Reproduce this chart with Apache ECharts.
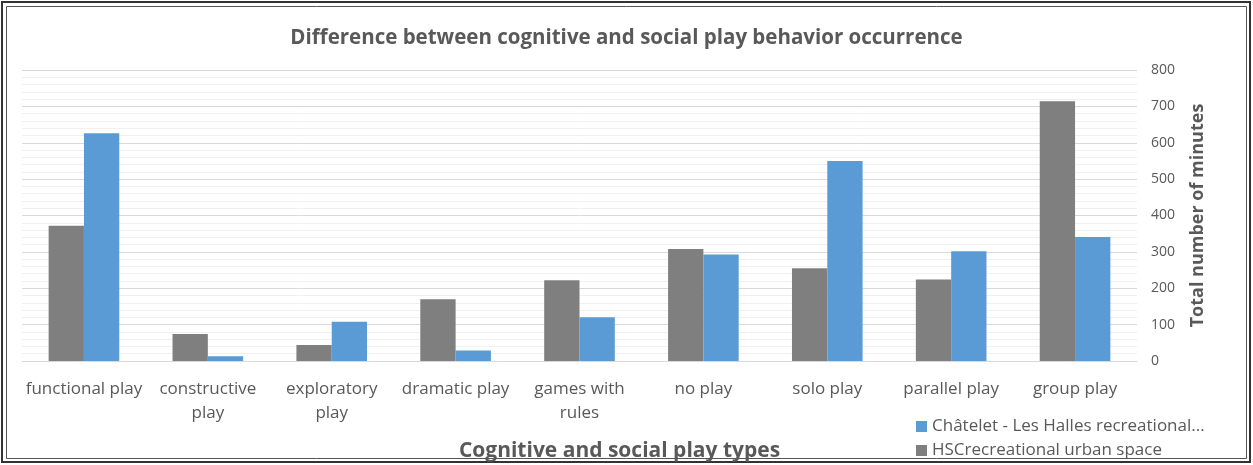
<!DOCTYPE html>
<html>
<head>
<meta charset="utf-8">
<script src="https://cdn.jsdelivr.net/npm/echarts@6/dist/echarts.min.js"></script>
<style>
  html, body { margin: 0; padding: 0; background: #fff; }
  #chart { width: 1253px; height: 465px; }
</style>
</head>
<body>
<div id="chart"></div>
<script>
const categories = ['functional play', 'constructive play', 'exploratory play', 'dramatic play',
  'games with rules', 'no play', 'solo play', 'parallel play', 'group play'];
const hscValues = [372, 74, 44, 170, 222, 308, 255, 224, 714];
const chateletValues = [626, 13, 108, 29, 120, 293, 550, 302, 341];
const seriesNames = ['HSCrecreational urban space', 'Châtelet - Les Halles recreational urban space'];

const textColor = '#595959';
const font = '"Open Sans", sans-serif';

const myChart = echarts.init(document.getElementById('chart'));

const option = {
  animation: false,
  textStyle: { fontFamily: font },
  title: {
    text: 'Difference between cognitive and social play behavior occurrence',
    left: 'center',
    top: 23,
    textStyle: { fontFamily: font, fontSize: 20.5, fontWeight: 'bold', color: textColor }
  },
  legend: {
    data: [seriesNames[1], seriesNames[0]],
    orient: 'vertical',
    left: 916,
    top: 415,
    height: 60,
    padding: 0,
    itemWidth: 11,
    itemHeight: 11,
    itemGap: 1,
    icon: 'rect',
    formatter: name => name.length > 34 ? name.slice(0, 34) + '...' : name,
    textStyle: { fontFamily: font, fontSize: 17, color: textColor, lineHeight: 23 }
  },
  grid: { left: 22, right: 116, top: 70, bottom: 104, outerBoundsMode: 'none' },
  xAxis: {
    type: 'category',
    data: categories,
    name: 'Cognitive and social play types',
    nameLocation: 'middle',
    nameGap: 80,
    nameTextStyle: { fontFamily: font, fontSize: 21, fontWeight: 'bold', color: textColor,
      padding: [0, 0, 0, 80] },
    axisLine: { lineStyle: { color: '#d9d9d9', width: 1 } },
    axisTick: { show: false },
    axisLabel: {
      fontFamily: font, fontSize: 17, color: textColor, margin: 16, lineHeight: 24,
      interval: 0,
      formatter: v => v.length > 15 ? v.replace(/ (\S+)$/, '\n$1') : v
    }
  },
  yAxis: {
    type: 'value',
    position: 'right',
    min: 0,
    max: 800,
    interval: 100,
    name: 'Total number of minutes',
    nameLocation: 'middle',
    nameGap: 52,
    nameRotate: 90,
    nameTextStyle: { fontFamily: font, fontSize: 18, fontWeight: 'bold', color: textColor },
    axisLine: { show: false },
    axisTick: { show: false },
    axisLabel: { fontFamily: font, fontSize: 14, color: textColor, margin: 14, align: 'left' },
    splitLine: { lineStyle: { color: '#d9d9d9', width: 1 } },
    minorTick: { show: false, splitNumber: 5 },
    minorSplitLine: { show: true, lineStyle: { color: '#f0f0f0', width: 1 } }
  },
  series: [
    {
      name: seriesNames[0],
      type: 'bar',
      data: hscValues,
      barGap: '0%',
      barCategoryGap: '43%',
      itemStyle: { color: '#7f7f7f' }
    },
    {
      name: seriesNames[1],
      type: 'bar',
      data: chateletValues,
      itemStyle: { color: '#5b9bd5' }
    }
  ],
  graphic: [
    { type: 'rect', shape: { x: 2, y: 2, width: 1248, height: 460 },
      style: { fill: 'none', stroke: '#333', lineWidth: 2 } },
    { type: 'rect', shape: { x: 6.5, y: 6.5, width: 1240, height: 452 },
      style: { fill: 'none', stroke: '#555', lineWidth: 1 } }
  ]
};

myChart.setOption(option);
</script>
</body>
</html>
